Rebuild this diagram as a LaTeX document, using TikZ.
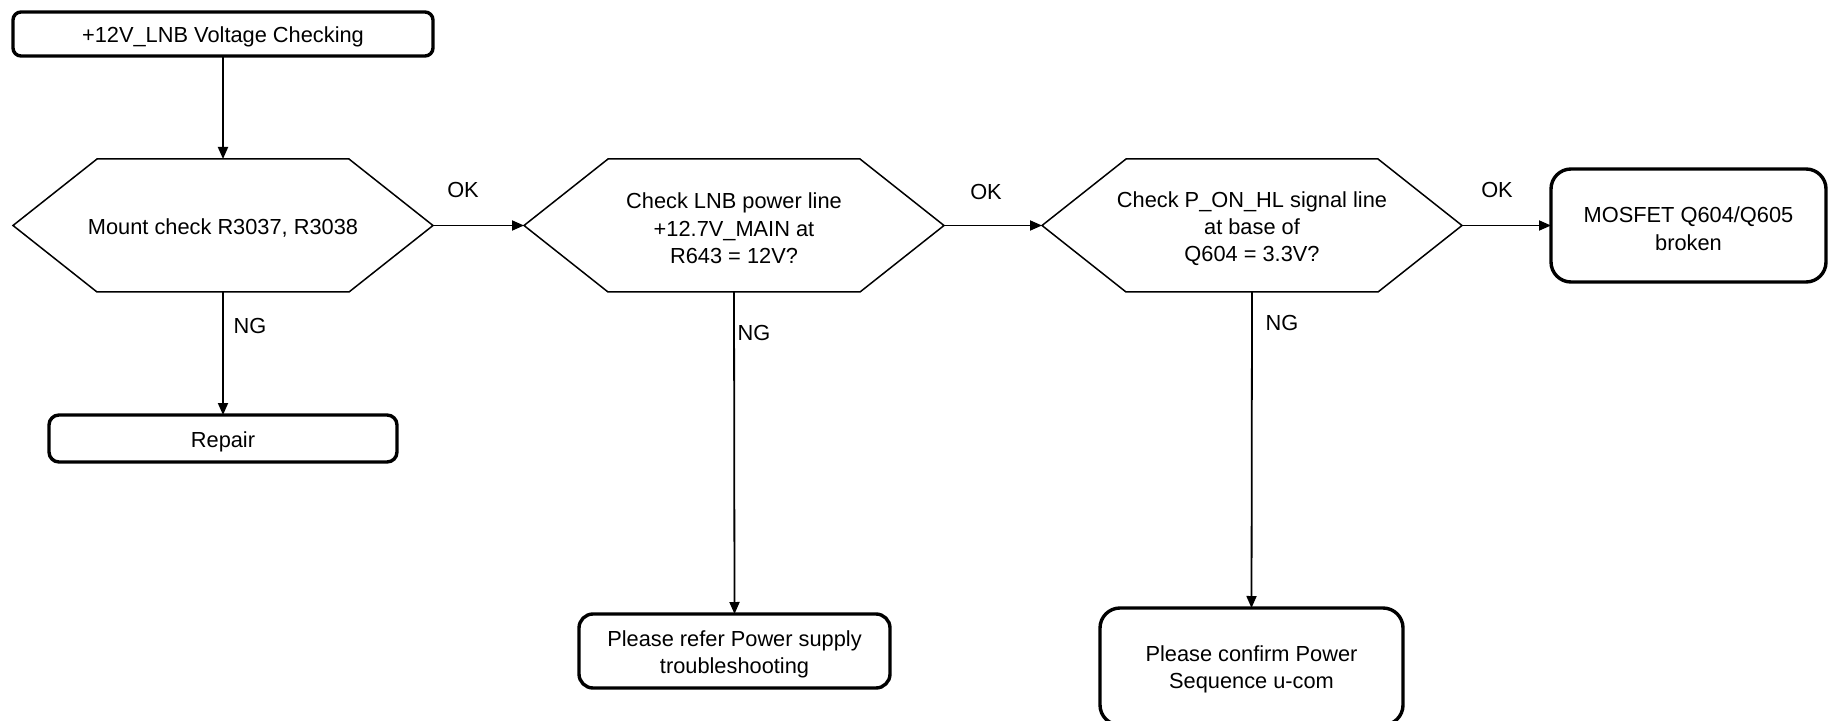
\documentclass[tikz,border=0pt]{standalone}
\usepackage{fontspec}
\setmainfont{Liberation Sans}
\usetikzlibrary{arrows.meta}
\newcommand\tstrut{\rule{0pt}{11pt}}
\begin{document}
\begin{tikzpicture}[x=0.5pt,y=-0.5pt,
  every node/.style={font=\fontsize{10.9pt}{13.7pt}\selectfont, inner sep=0pt, outer sep=0pt},
  rbox/.style={draw, line width=1.7pt, rounded corners=#1, align=center},
  hexa/.style={minimum width=210pt, minimum height=66.5pt, align=center},
  conn/.style={line width=0.9pt, -{Triangle[length=6pt,width=5pt]}},
  lbl/.style={}]
\useasboundingbox (0,0) rectangle (1829,721);
% nodes
\node[rbox=4pt, minimum width=210pt, minimum height=22pt] (top) at (223,34) {\tstrut+12V\_LNB Voltage Checking};
\node[hexa] (h1) at (223,225.5) {\rule{0pt}{10.5pt}Mount check R3037, R3038};
\node[hexa] (h2) at (734,225.5) {\tstrut Check LNB power line\\+12.7V\_MAIN at\\R643 = 12V?};
\node[hexa] (h3) at (1252,225.5) {\tstrut Check P\_ON\_HL signal line\\at base of\\Q604 = 3.3V?};
\node[rbox=10pt, minimum width=137.5pt, minimum height=56.5pt] (mos) at (1688.5,225.5) {\tstrut MOSFET Q604/Q605\\broken};
\node[rbox=5pt, minimum width=174pt, minimum height=23.5pt] (rep) at (223,438.5) {\tstrut Repair};
\node[rbox=7pt, minimum width=155.5pt, minimum height=37pt] (ref) at (734.5,651) {\tstrut Please refer Power supply\\troubleshooting};
\node[rbox=10pt, minimum width=151.5pt, minimum height=58.5pt] (conf) at (1251.5,666.5) {\tstrut Please confirm Power\\Sequence u-com};
% hexagon outlines
\foreach \h in {h1,h2,h3}{
  \draw[line width=0.75pt] (\h.west) -- ([xshift=42pt]\h.north west) -- ([xshift=-42pt]\h.north east) -- (\h.east)
    -- ([xshift=-42pt]\h.south east) -- ([xshift=42pt]\h.south west) -- cycle;
}
% connectors
\draw[conn] (top.south) -- (h1.north);
\draw[conn] (h1.east) -- (h2.west);
\draw[conn] (h2.east) -- (h3.west);
\draw[conn] (h3.east) -- (mos.west);
\draw[conn] (h1.south) -- (rep.north);
\draw[conn] (h2.south) -- (ref.north);
\draw[conn] (h3.south) -- (conf.north);
% labels
\node[lbl] (ok1) at (463,190) {OK};
\node[lbl] (ok2) at (986,192) {OK};
\node[lbl] (ok3) at (1497,190) {OK};
\node[lbl] (ng1) at (250,326) {NG};
\node[lbl] (ng2) at (754,333) {NG};
\node[lbl] (ng3) at (1282,323) {NG};
\end{tikzpicture}
\end{document}
